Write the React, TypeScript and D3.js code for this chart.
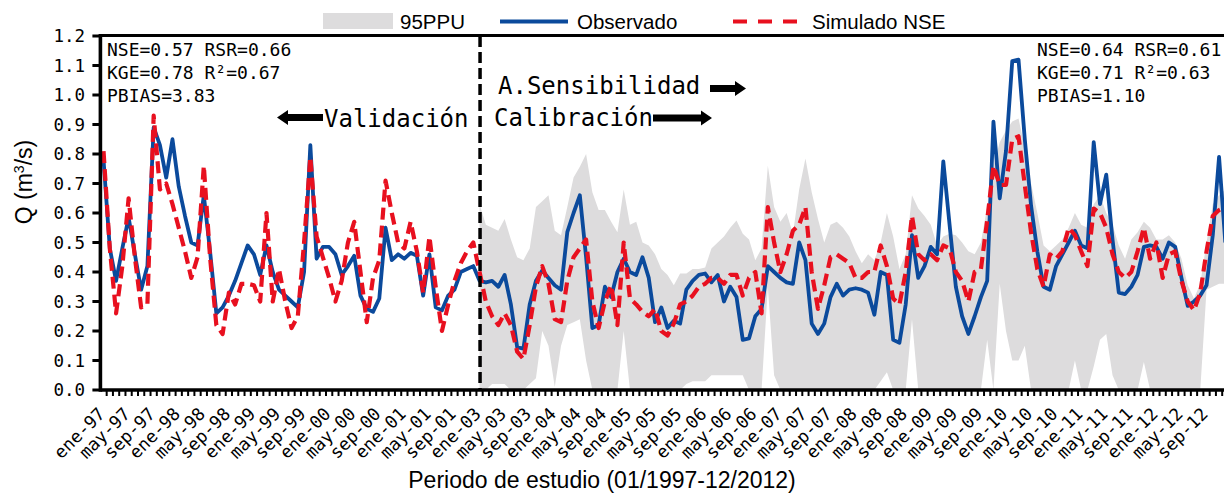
import React from "react";
import * as d3 from "d3";

const monthNames = ["ene", "feb", "mar", "abr", "may", "jun", "jul", "ago", "sep", "oct", "nov", "dic"];
const years = [1997, 1998, 1999, 2000, 2001, 2003, 2004, 2005, 2006, 2007, 2008, 2009, 2010, 2011, 2012];
const categories: string[] = years.flatMap((yr) => monthNames.map((m) => `${m}-${String(yr % 100).padStart(2, "0")}`));
const yTicks = [0, 0.1, 0.2, 0.3, 0.4, 0.5, 0.6, 0.7, 0.8, 0.9, 1.0, 1.1, 1.2];
const calibStart = "ene-03";

const observed = [
  0.78, 0.48, 0.37, 0.48, 0.585, 0.46, 0.34, 0.42, 0.89, 0.83, 0.72, 0.85,
  0.69, 0.59, 0.5, 0.49, 0.66, 0.47, 0.26, 0.28, 0.32, 0.37, 0.43, 0.49,
  0.46, 0.39, 0.49, 0.4, 0.34, 0.32, 0.3, 0.28, 0.4, 0.83, 0.445, 0.485,
  0.485, 0.46, 0.39, 0.42, 0.455, 0.32, 0.275, 0.265, 0.31, 0.55, 0.44, 0.46,
  0.445, 0.465, 0.455, 0.32, 0.46, 0.28, 0.27, 0.32, 0.34, 0.4, 0.41, 0.42,
  0.37, 0.365, 0.37, 0.35, 0.39, 0.29, 0.145, 0.14, 0.29, 0.37, 0.405, 0.38,
  0.355, 0.34, 0.535, 0.6, 0.66, 0.45, 0.21, 0.22, 0.35, 0.315, 0.4, 0.445,
  0.4, 0.39, 0.45, 0.38, 0.23, 0.28, 0.21, 0.235, 0.225, 0.34, 0.37, 0.39,
  0.395, 0.365, 0.39, 0.3, 0.35, 0.315, 0.17, 0.175, 0.25, 0.275, 0.42, 0.4,
  0.38, 0.365, 0.36, 0.5, 0.44, 0.225, 0.19, 0.225, 0.315, 0.36, 0.32, 0.34,
  0.345, 0.34, 0.33, 0.255, 0.4, 0.39, 0.17, 0.16, 0.29, 0.525, 0.38, 0.42,
  0.485, 0.46, 0.775, 0.56, 0.35, 0.25, 0.19, 0.25, 0.315, 0.37, 0.91, 0.65,
  0.81, 1.115, 1.12, 0.85, 0.625, 0.47, 0.35, 0.34, 0.42, 0.46, 0.5, 0.54,
  0.49, 0.48, 0.84, 0.63, 0.73, 0.51, 0.33, 0.325, 0.35, 0.39, 0.485, 0.49,
  0.485, 0.445, 0.5, 0.485, 0.38, 0.285, 0.3, 0.32, 0.355, 0.525, 0.79, 0.5,
];

const simulated = [
  0.81, 0.48, 0.26, 0.42, 0.65, 0.45, 0.28, 0.29, 0.93, 0.68, 0.7, 0.63,
  0.55, 0.47, 0.38, 0.45, 0.76, 0.45, 0.22, 0.19, 0.33, 0.29, 0.36, 0.36,
  0.355, 0.3, 0.6, 0.3, 0.41, 0.3, 0.21, 0.25, 0.5, 0.79, 0.52, 0.45,
  0.38, 0.3, 0.37, 0.5, 0.57, 0.4, 0.23, 0.38, 0.44, 0.71, 0.6, 0.5,
  0.48, 0.57, 0.47, 0.33, 0.52, 0.35, 0.2, 0.29, 0.37, 0.43, 0.47, 0.5,
  0.4, 0.3, 0.25, 0.22, 0.26, 0.22, 0.13, 0.105, 0.22, 0.35, 0.42, 0.36,
  0.24, 0.23, 0.37, 0.45, 0.48, 0.51, 0.3, 0.21, 0.3, 0.355, 0.22, 0.5,
  0.31, 0.29, 0.265, 0.25, 0.275, 0.2, 0.185, 0.225, 0.29, 0.3, 0.32, 0.35,
  0.36, 0.38, 0.38, 0.36, 0.39, 0.39, 0.32, 0.38, 0.4, 0.26, 0.62, 0.5,
  0.4, 0.46, 0.54, 0.56, 0.62, 0.4, 0.275, 0.355, 0.45, 0.46, 0.445, 0.43,
  0.38, 0.38, 0.4, 0.4, 0.49, 0.42, 0.31, 0.29, 0.4, 0.59, 0.46, 0.44,
  0.46, 0.44, 0.49, 0.48, 0.4, 0.37, 0.3, 0.4, 0.41, 0.575, 0.76, 0.695,
  0.695, 0.85, 0.86, 0.695, 0.535, 0.41, 0.35, 0.46, 0.445, 0.47, 0.55, 0.525,
  0.47, 0.42, 0.615, 0.6, 0.55, 0.46, 0.4, 0.38, 0.4, 0.47, 0.55, 0.445,
  0.5, 0.38, 0.46, 0.47, 0.37, 0.3, 0.27, 0.33, 0.47, 0.59, 0.61, 0.62,
];

// 95PPU band, calibration period (ene-03 .. dic-12)
const ppuUpper = [
  0.63, 0.56, 0.55, 0.54, 0.58, 0.51, 0.45, 0.44, 0.48, 0.62, 0.64, 0.66,
  0.54, 0.525, 0.62, 0.72, 0.757, 0.8, 0.67, 0.61, 0.61, 0.57, 0.535, 0.68,
  0.56, 0.57, 0.5, 0.49, 0.46, 0.41, 0.39, 0.355, 0.395, 0.395, 0.41, 0.41,
  0.415, 0.48, 0.5, 0.52, 0.55, 0.575, 0.53, 0.51, 0.44, 0.48, 0.76, 0.62,
  0.57, 0.6, 0.53, 0.68, 0.785, 0.67, 0.58, 0.5, 0.56, 0.57, 0.55, 0.52,
  0.47, 0.43, 0.46, 0.44, 0.5, 0.6, 0.52, 0.41, 0.46, 0.66, 0.615, 0.59,
  0.56, 0.49, 0.52, 0.53, 0.525, 0.5, 0.47, 0.46, 0.5, 0.62, 0.76, 0.84,
  0.88, 0.91, 0.92, 0.82, 0.7, 0.6, 0.49, 0.47, 0.49, 0.51, 0.55, 0.6,
  0.56, 0.55, 0.63, 0.66, 0.6, 0.56, 0.49, 0.445, 0.51, 0.535, 0.57, 0.55,
  0.51, 0.51, 0.525, 0.5, 0.445, 0.355, 0.31, 0.36, 0.5, 0.63, 0.66, 0.68,
];
const ppuLower = [
  0.0, 0.0, 0.02, 0.02, 0.02, 0.0, 0.0, 0.0, 0.02, 0.04, 0.2, 0.15,
  0.01, 0.15, 0.22, 0.23, 0.24, 0.1, 0.0, 0.0, 0.0, 0.0, 0.0, 0.2,
  0.0, 0.0, 0.0, 0.0, 0.0, 0.0, 0.0, 0.0, 0.0, 0.02, 0.03, 0.03,
  0.03, 0.05, 0.05, 0.05, 0.05, 0.05, 0.05, 0.0, 0.0, 0.0, 0.35, 0.05,
  0.0, 0.0, 0.0, 0.0, 0.0, 0.0, 0.0, 0.0, 0.0, 0.0, 0.0, 0.0,
  0.0, 0.0, 0.0, 0.0, 0.03, 0.06, 0.0, 0.0, 0.0, 0.24, 0.0, 0.0,
  0.0, 0.0, 0.0, 0.0, 0.0, 0.0, 0.0, 0.0, 0.0, 0.17, 0.0, 0.36,
  0.2, 0.1, 0.1, 0.15, 0.0, 0.0, 0.0, 0.0, 0.0, 0.0, 0.0, 0.1,
  0.0, 0.0, 0.08, 0.17, 0.19, 0.05, 0.0, 0.0, 0.0, 0.0, 0.095, 0.0,
  0.0, 0.0, 0.0, 0.0, 0.0, 0.0, 0.0, 0.0, 0.34, 0.35, 0.36, 0.36,
];

const W = 1224;
const H = 497;
const plotLeft = 100.4;
const stepPx = 6.267;
const plotTop = 36;
const plotBottom = 390;

const MONO = "'DejaVu Sans Mono', monospace";
const SANS = "'Liberation Sans', Arial, sans-serif";
const BLUE = "#0b4a9c";
const RED = "#e8101f";
const GRAY = "#dddcdd";

export default function App() {
  const x = d3
    .scaleBand<string>()
    .domain(categories)
    .range([plotLeft, plotLeft + stepPx * categories.length])
    .paddingInner(0)
    .paddingOuter(0);
  const cx = (c: string) => (x(c) as number) + x.bandwidth() / 2;
  const y = d3.scaleLinear().domain([0, 1.2]).range([plotBottom, plotTop]);

  const calibIdx = categories.indexOf(calibStart);
  const calibCats = categories.slice(calibIdx);

  const area = d3
    .area<number>()
    .x((_, i) => cx(calibCats[i]))
    .y0((_, i) => y(ppuLower[i]))
    .y1((d) => y(d));

  const line = d3
    .line<number>()
    .x((_, i) => cx(categories[i]))
    .y((d) => y(d));

  const splitX = cx(calibStart) + 0.5;
  const plotRight = W + 4;

  return (
    <svg
      width={W}
      height={H}
      style={{ position: "absolute", left: 0, top: 0, background: "#fff" }}
      xmlns="http://www.w3.org/2000/svg"
    >
      <rect x={0} y={0} width={W} height={H} fill="#fff" />
      <path d={area(ppuUpper) || ""} fill={GRAY} stroke="none" />
      <path d={line(observed) || ""} fill="none" stroke={BLUE} strokeWidth={3.8} strokeLinejoin="round" />
      <path
        d={line(simulated) || ""}
        fill="none"
        stroke={RED}
        strokeWidth={4.2}
        strokeDasharray="12,6"
        strokeLinejoin="round"
      />
      <line x1={splitX} x2={splitX} y1={plotTop} y2={plotBottom} stroke="#000" strokeWidth={3.5} strokeDasharray="11,5" />

      <line x1={plotLeft - 1} x2={plotRight} y1={plotTop - 0.5} y2={plotTop - 0.5} stroke="#000" strokeWidth={3} />
      <line x1={plotLeft} x2={plotRight} y1={plotBottom} y2={plotBottom} stroke="#000" strokeWidth={3.4} />
      <line x1={plotLeft} x2={plotLeft} y1={plotTop - 2} y2={plotBottom + 1.7} stroke="#000" strokeWidth={3.6} />

      {yTicks.map((t) => (
        <g key={t}>
          <line x1={plotLeft - 8} x2={plotLeft} y1={y(t)} y2={y(t)} stroke="#000" strokeWidth={3} />
          <text x={85} y={y(t)} dy="0.36em" textAnchor="end" fontFamily={MONO} fontSize={17.5} fill="#000">
            {d3.format(".1f")(t)}
          </text>
        </g>
      ))}

      {categories.map((c) => (
        <line
          key={"t" + c}
          x1={(x(c) as number) + x.bandwidth()}
          x2={(x(c) as number) + x.bandwidth()}
          y1={plotBottom}
          y2={plotBottom + 6}
          stroke="#000"
          strokeWidth={2}
        />
      ))}
      {categories.map((c, i) =>
        i % 4 === 0 ? (
          <text
            key={"l" + c}
            transform={`translate(${cx(c) + 2.5},${415}) rotate(-45)`}
            textAnchor="end"
            fontFamily={MONO}
            fontSize={17.5}
            fill="#000"
          >
            {c}
          </text>
        ) : null
      )}

      <text transform="translate(32,182) rotate(-90)" textAnchor="middle" fontFamily={SANS} fontSize={23} fill="#000">
        Q (m<tspan dy={-8} fontSize={14}>3</tspan>
        <tspan dy={8}>/s)</tspan>
      </text>
      <text x={602} y={488} textAnchor="middle" fontFamily={SANS} fontSize={23} fill="#000">
        Periodo de estudio (01/1997-12/2012)
      </text>

      <rect x={323} y={13} width={70} height={16} fill={GRAY} />
      <text x={400} y={28.5} fontFamily={SANS} fontSize={20.5} fill="#000">95PPU</text>
      <line x1={500} x2={568} y1={21.5} y2={21.5} stroke={BLUE} strokeWidth={3.8} />
      <text x={577} y={28.5} fontFamily={SANS} fontSize={20.5} fill="#000">Observado</text>
      <line x1={733} x2={802} y1={21.5} y2={21.5} stroke={RED} strokeWidth={4} strokeDasharray="14,11" />
      <text x={812} y={28.5} fontFamily={SANS} fontSize={20.5} fill="#000">Simulado NSE</text>

      <g fontFamily={MONO} fontSize={18} fill="#000">
        <text x={107} y={56}>NSE=0.57 RSR=0.66</text>
        <text x={107} y={79}>KGE=0.78 R²=0.67</text>
        <text x={107} y={102}>PBIAS=3.83</text>
        <text x={1037} y={56}>NSE=0.64 RSR=0.61</text>
        <text x={1037} y={79}>KGE=0.71 R²=0.63</text>
        <text x={1037} y={102}>PBIAS=1.10</text>
      </g>

      <g fontFamily={MONO} fontSize={24} fill="#000">
        <text x={324} y={127}>Validación</text>
        <text x={498} y={94}>A.Sensibilidad</text>
        <text x={494} y={126}>Calibración</text>
      </g>
      <polygon points="277,117.5 288,110 288,114 323,114 323,121 288,121 288,125" fill="#000" />
      <polygon points="746,88.5 735,81 735,85 710,85 710,92 735,92 735,96" fill="#000" />
      <polygon points="712,118 701,110.5 701,114.5 653,114.5 653,121.5 701,121.5 701,125.5" fill="#000" />
    </svg>
  );
}
